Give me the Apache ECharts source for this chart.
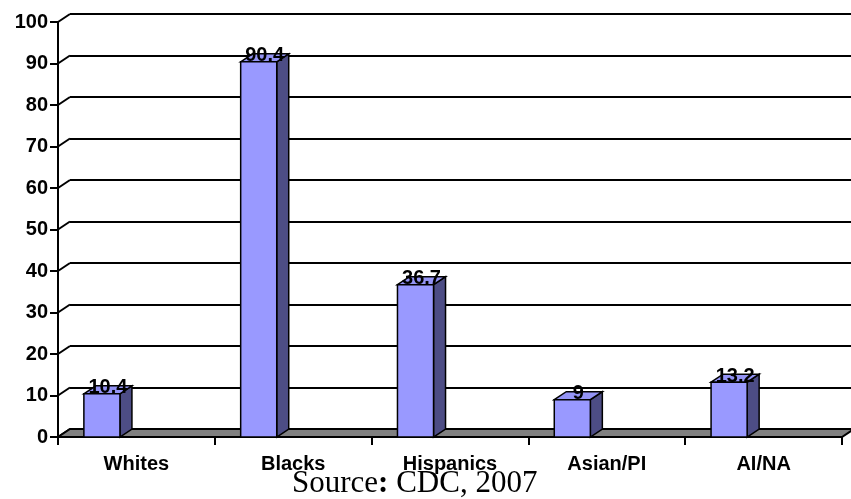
<!DOCTYPE html>
<html><head><meta charset="utf-8">
<script src="https://cdn.jsdelivr.net/npm/echarts@6/dist/echarts.min.js"></script>
<style>html,body{margin:0;padding:0;background:#fff}#c{width:851px;height:499px}</style>
</head><body><div id="c"></div><script>
const categories = ['Whites', 'Blacks', 'Hispanics', 'Asian/PI', 'AI/NA'];
const values = [10.4, 90.4, 36.7, 9, 13.2];
const yTicks = [0, 10, 20, 30, 40, 50, 60, 70, 80, 90, 100];

const DX = 12, DY = -8;
const FONT = '"Liberation Sans", Arial, sans-serif';
const chart = echarts.init(document.getElementById('c'), null, {renderer: 'canvas'});

const option = {
  animation: false,
  backgroundColor: '#fff',
  grid: [
    {left: 58, top: 22, width: 784, height: 415},
    {left: 70, top: 14, width: 784, height: 415}
  ],
  xAxis: [
    {type: 'category', gridIndex: 0, data: categories,
     axisLine: {show: false},
     axisTick: {show: true, length: 8, interval: 0, lineStyle: {color: '#000', width: 2}},
     axisLabel: {interval: 0, margin: 17, color: '#000', fontFamily: FONT, fontWeight: 'bold', fontSize: 20}},
    {type: 'category', gridIndex: 1, data: categories, show: false}
  ],
  yAxis: [
    {type: 'value', gridIndex: 0, min: 0, max: 100, interval: 10,
     axisLine: {show: true, lineStyle: {color: '#000', width: 2}},
     axisTick: {show: true, length: 8, lineStyle: {color: '#000', width: 2}},
     axisLabel: {color: '#000', fontFamily: FONT, fontWeight: 'bold', fontSize: 20, margin: 10},
     splitLine: {show: false}},
    {type: 'value', gridIndex: 1, min: 0, max: 100, interval: 10,
     axisLine: {show: false}, axisTick: {show: false}, axisLabel: {show: false},
     splitLine: {show: true, lineStyle: {color: '#000', width: 2}}}
  ],
  series: [
    {
      type: 'custom', name: 'wall', xAxisIndex: 0, yAxisIndex: 0, clip: false, z: 1,
      data: yTicks.map(v => [0, v]),
      renderItem: function (params, api) {
        const p = api.coord([0, api.value(1)]);
        const bw = api.size([1, 0])[0];
        const x0 = p[0] - bw / 2;
        return {type: 'line', shape: {x1: x0, y1: p[1], x2: x0 + DX, y2: p[1] + DY},
                style: {stroke: '#000', lineWidth: 2}};
      }
    },
    {
      type: 'custom', name: 'floor', xAxisIndex: 0, yAxisIndex: 0, clip: false, z: 2,
      data: [[0, 0]],
      renderItem: function (params, api) {
        const bw = api.size([1, 0])[0];
        const a = api.coord([0, 0]);
        const b = api.coord([categories.length - 1, 0]);
        const x0 = a[0] - bw / 2, x1 = b[0] + bw / 2, y = a[1];
        return {type: 'polygon',
                shape: {points: [[x0, y], [x1, y], [x1 + DX, y + DY], [x0 + DX, y + DY]]},
                style: {fill: '#808080', stroke: '#000', lineWidth: 2}};
      }
    },
    {
      type: 'custom', name: 'bars', xAxisIndex: 0, yAxisIndex: 0, clip: false, z: 3,
      data: values.map((v, i) => [i, v]),
      renderItem: function (params, api) {
        const i = api.value(0), v = api.value(1);
        const p = api.coord([i, v]);
        const base = api.coord([i, 0]);
        const bw = api.size([1, 0])[0];
        const l = p[0] - 0.335 * bw, r = p[0] - 0.105 * bw;
        const t = p[1], btm = base[1];
        const st = {stroke: '#000', lineWidth: 1.5};
        return {type: 'group', children: [
          {type: 'polygon', shape: {points: [[r, t], [r + DX, t + DY], [r + DX, btm + DY], [r, btm]]},
           style: Object.assign({fill: '#4D4D85'}, st)},
          {type: 'polygon', shape: {points: [[l, t], [l + DX, t + DY], [r + DX, t + DY], [r, t]]},
           style: Object.assign({fill: '#9494F5'}, st)},
          {type: 'rect', shape: {x: l, y: t, width: r - l, height: btm - t},
           style: Object.assign({fill: '#9999FF'}, st)},
          {type: 'text', z2: 10, style: {text: String(v), x: (l + r) / 2 + DX / 2, y: t + 4,
            align: 'center', verticalAlign: 'bottom', fill: '#000',
            font: 'bold 20px ' + FONT}}
        ]};
      }
    }
  ],
  graphic: [
    {type: 'text', left: 292, top: 468,
     style: {text: '{a|Source}{b|:}{a| CDC, 2007}', fill: '#000',
       rich: {
         a: {fontFamily: '"Liberation Serif", "Times New Roman", serif', fontSize: 31, fill: '#000'},
         b: {fontFamily: '"Liberation Serif", "Times New Roman", serif', fontSize: 31, fontWeight: 'bold', fill: '#000'}
       }}}
  ]
};
chart.setOption(option);
</script></body></html>
